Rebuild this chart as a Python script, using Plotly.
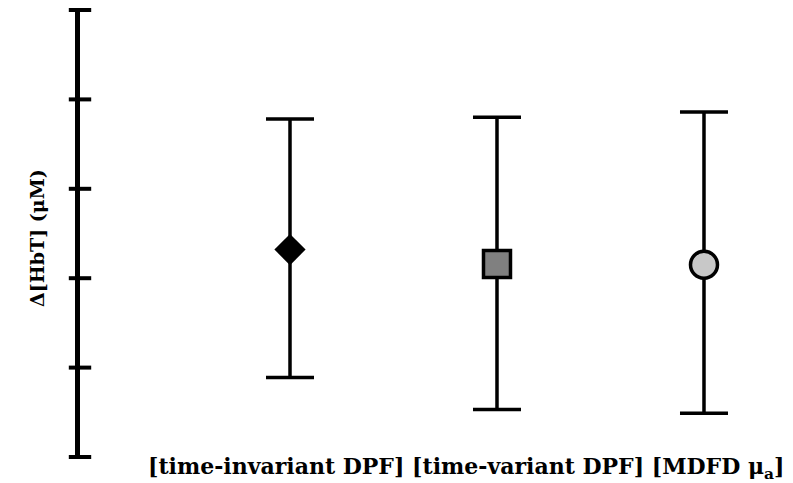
import plotly.graph_objects as go

# Methods compared and their mean change in total haemoglobin with spread
methods = ["[time-invariant DPF]", "[time-variant DPF]", "[MDFD μ<sub>a</sub>]"]
mean_hbt = [2.32, 2.16, 2.15]
err_plus = [1.46, 1.64, 1.71]
err_minus = [1.43, 1.63, 1.66]
y_ticks = [0, 1, 2, 3, 4, 5]

symbols = ["diamond", "square", "circle"]
fills = ["#000000", "#808080", "#c8c8c8"]
sizes = [24, 27, 27]
outlines = [0, 3.5, 3.5]

X_RANGE = [-1.0145, 2.43]
SERIF = "DejaVu Serif"

fig = go.Figure()
for i, name in enumerate(methods):
    fig.add_trace(go.Scatter(
        x=[i], y=[mean_hbt[i]],
        mode="markers",
        marker=dict(symbol=symbols[i], size=sizes[i], color=fills[i],
                    line=dict(color="black", width=outlines[i])),
        error_y=dict(type="data", symmetric=False,
                     array=[err_plus[i]], arrayminus=[err_minus[i]],
                     color="black", thickness=3.5, width=24),
        showlegend=False,
    ))

# Tick marks that cross the y axis line on both sides
fig.add_trace(go.Scatter(
    x=[X_RANGE[0]] * len(y_ticks), y=y_ticks, mode="markers",
    marker=dict(symbol="line-ew", size=16, line=dict(color="black", width=4)),
    cliponaxis=False, hoverinfo="skip", showlegend=False,
))

fig.update_layout(
    width=793, height=483,
    margin=dict(l=80, r=0, t=10, b=26),
    paper_bgcolor="white", plot_bgcolor="white",
    font=dict(family=SERIF, color="black"),
    xaxis=dict(range=X_RANGE, visible=False, showgrid=False, zeroline=False),
    yaxis=dict(range=[0, 5], tickvals=y_ticks, showticklabels=False,
               ticks="", showgrid=False, zeroline=False, showline=True,
               linecolor="black", linewidth=4.5),
    annotations=[
        dict(text="<b>" + " ".join(methods) + "</b>",
             xref="paper", yref="paper", x=0.092, y=-0.024,
             xanchor="left", yanchor="middle", showarrow=False,
             font=dict(size=22, family=SERIF, color="black")),
        dict(text="<b>Δ[HbT] (μM)</b>", textangle=-90,
             xref="paper", yref="paper", x=-0.0603, y=0.49,
             xanchor="center", yanchor="middle", showarrow=False,
             font=dict(size=19, family=SERIF, color="black")),
    ],
)

fig.write_html("out.html")
